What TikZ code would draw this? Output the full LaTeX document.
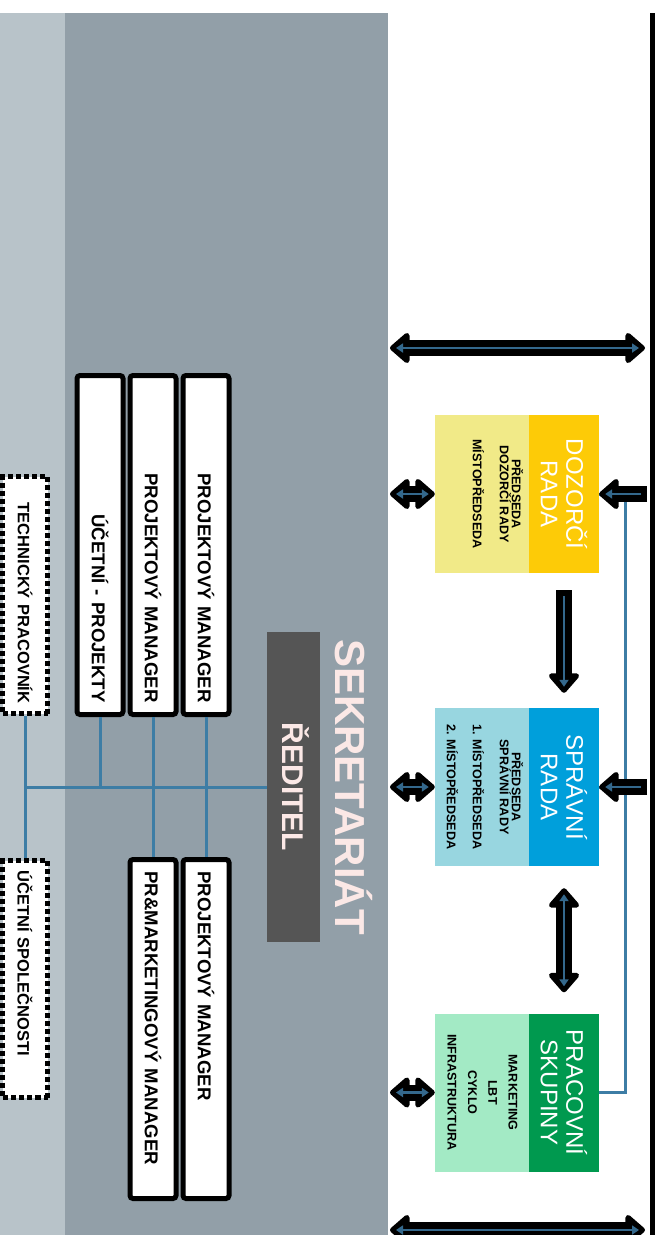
\documentclass[tikz,border=0pt]{standalone}
\usepackage{fontspec}
\setmainfont{Liberation Sans}
\usepackage{tikz}
\usetikzlibrary{arrows.meta,calc}
\definecolor{sideLight}{HTML}{B8C3C9}
\definecolor{sideDark}{HTML}{929FA8}
\definecolor{boss}{HTML}{555555}
\definecolor{rose}{HTML}{FBE8E6}
\definecolor{wire}{HTML}{3D7DA5}
\definecolor{wireDark}{HTML}{34688C}
\definecolor{dozDark}{HTML}{FDCB07}
\definecolor{dozLight}{HTML}{F1EA88}
\definecolor{sprDark}{HTML}{009FDB}
\definecolor{sprLight}{HTML}{98D6E0}
\definecolor{pracDark}{HTML}{00994F}
\definecolor{pracLight}{HTML}{A3EAC5}
\newcommand{\fatarrow}[3]{%
  \draw[fatouter,#1] (#2) -- (#3);
  \draw[fatinner,#1] (#2) -- (#3);}

\begin{document}
\begin{tikzpicture}[x=1pt,y=-1pt,
    fatouter/.style={draw=black,line width=16pt,>={Triangle[length=21pt,width=35pt,line width=6pt,round]}},
    fatinner/.style={draw=wireDark,line width=2.5pt,shorten <=6pt,shorten >=6pt,>={Triangle[length=7pt,width=9pt]}},
    link/.style={draw=wire,line width=3pt},
    head/.style={rotate=-90,inner sep=0pt,minimum width=158pt,minimum height=70pt,text=white,align=center,font=\fontsize{24}{25.5}\selectfont},
    body/.style={rotate=-90,inner sep=0pt,minimum width=158pt,minimum height=94pt},
    list/.style={rotate=-90,inner sep=0pt,align=center,font=\bfseries\fontsize{12.6}{12}\selectfont},
    staff/.style={rotate=-90,draw=black,fill=white,line width=5pt,rounded corners=3pt,minimum width=339pt,minimum height=46pt,inner xsep=12pt,text width=315pt,font=\bfseries\fontsize{18.6}{20}\selectfont},
    extern/.style={rotate=-90,draw=black,fill=white,line width=5pt,dash pattern=on 5pt off 3pt,minimum width=237pt,minimum height=45pt,inner xsep=10pt,text width=217pt,font=\bfseries\fontsize{16.5}{18}\selectfont}]
  \useasboundingbox (0,0) rectangle (655,1235);
  % background bands
  \fill[white] (0,0) rectangle (655,1235);
  \fill[sideLight] (0,13) rectangle (65,1235);
  \fill[sideDark] (65,13) rectangle (388,1235);
  \fill[black] (650,13) rectangle (655,1235);

  % office
  \node[rotate=-90,anchor=base,text=rose,inner sep=0pt,font=\bfseries\fontsize{42}{42}\selectfont] (sekretariat) at (335,787) {SEKRETARIÁT};
  \node[rotate=-90,fill=boss,text=rose,minimum width=310pt,minimum height=53pt,inner sep=0pt,text height=21.5pt,text depth=0pt,font=\bfseries\fontsize{30}{30}\selectfont] (reditel) at (293.5,787) {ŘEDITEL};
  \node[staff,align=right] (ucetniProj) at (100,545) {ÚČETNÍ - PROJEKTY};
  \node[staff,align=right] (pmA) at (153,545) {PROJEKTOVÝ MANAGER};
  \node[staff,align=right] (pmB) at (206,545) {PROJEKTOVÝ MANAGER};
  \node[staff,align=left] (prMan) at (153,1029) {PR\&MARKETINGOVÝ MANAGER};
  \node[staff,align=left] (pmC) at (206,1029) {PROJEKTOVÝ MANAGER};
  \node[extern,align=right] (tech) at (25,595) {TECHNICKÝ PRACOVNÍK};
  \node[extern,align=left] (ucetniSpol) at (25,979) {ÚČETNÍ SPOLEČNOSTI};

  % boards
  \node[head,fill=dozDark] (dozHead) at (564,494) {DOZORČÍ\\RADA};
  \node[body,fill=dozLight] (dozBody) at (482,494) {};
  \node[list] (dozList) at (498,494) {PŘEDSEDA\\DOZORČÍ RADY\\[15pt]MÍSTOPŘEDSEDA};
  \node[head,fill=sprDark] (sprHead) at (564,787) {SPRÁVNÍ\\RADA};
  \node[body,fill=sprLight] (sprBody) at (482,787) {};
  \node[list] (sprList) at (485,787) {PŘEDSEDA\\SPRÁVNÍ RADY\\[15pt]1. MÍSTOPŘEDSEDA\\[14pt]2. MÍSTOPŘEDSEDA};
  \node[head,fill=pracDark] (pracHead) at (564,1092.5) {PRACOVNÍ\\SKUPINY};
  \node[body,fill=pracLight] (pracBody) at (482,1092.5) {};
  \node[list,font=\bfseries\fontsize{12.6}{20.3}\selectfont] (pracList) at (482.5,1092.5) {MARKETING\\LBT\\CYKLO\\INFRASTRUKTURA};

  % connectors
  \coordinate (bus) at (25,787);
  \coordinate (rbus) at (625,787);
  \coordinate (sprR) at (647,787);
  \coordinate (dozR) at (647,494);
  \draw[link] (tech) -- (ucetniSpol);
  \draw[link] (bus) -- (reditel);
  \draw[link] (ucetniProj) -- (ucetniProj |- bus);
  \draw[link] (pmA) -- (prMan);
  \draw[link] (pmB) -- (pmC);
  \draw[link] (dozHead.north) -| (rbus) |- (pracHead.north);
  \draw[link] (sprHead.north) -- (sprR);

  % arrows
  \coordinate (topL) at (390,348);
  \coordinate (topR) at (645,348);
  \coordinate (botL) at (390,1230);
  \coordinate (botR) at (645,1230);
  \coordinate (dozL) at (390,494);
  \coordinate (sprL) at (390,787);
  \coordinate (pracL) at (390,1092.5);
  \coordinate (downA) at ($(dozHead.east)+(0,17)$);
  \coordinate (downB) at ($(sprHead.west)+(0,-15)$);
  \coordinate (pairA) at ($(sprHead.east)+(0,22)$);
  \coordinate (pairB) at ($(pracHead.west)+(0,-21)$);
  \fatarrow{<->}{topL}{topR}
  \fatarrow{<->}{botL}{botR}
  \fatarrow{<->}{dozL}{dozBody.south}
  \fatarrow{<->}{sprL}{sprBody.south}
  \fatarrow{<->}{pracL}{pracBody.south}
  \fatarrow{->}{dozR}{dozHead.north}
  \fatarrow{->}{sprR}{sprHead.north}
  \fatarrow{->}{downA}{downB}
  \fatarrow{<->}{pairA}{pairB}
\end{tikzpicture}
\end{document}
